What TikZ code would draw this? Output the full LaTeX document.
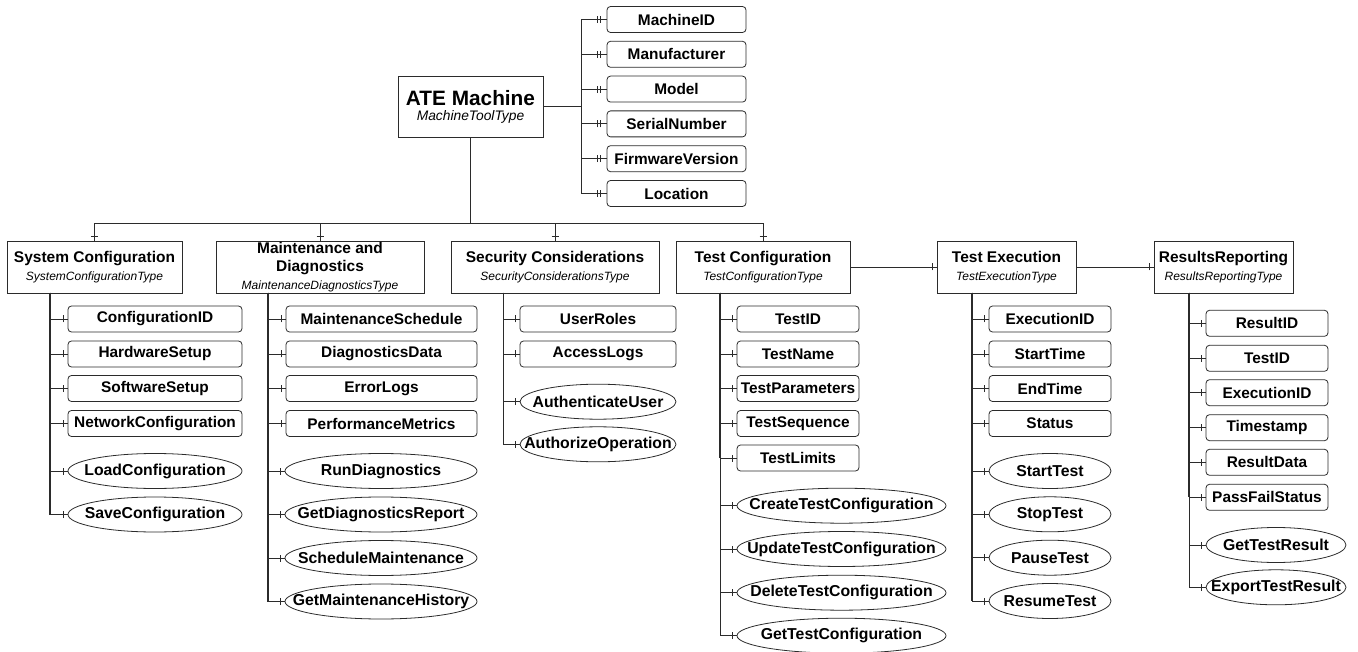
\documentclass[tikz,border=0pt]{standalone}
\usepackage{fontspec}
\setmainfont{Liberation Sans}
\usetikzlibrary{shapes.geometric, decorations.markings}
\definecolor{linecol}{HTML}{2B2B2B}
\newcommand{\typename}[1]{{\itshape\fontsize{12}{14}\selectfont #1}}
\newcommand{\opname}[1]{\makebox[0pt]{#1}}

\begin{document}
\begin{tikzpicture}[
  x=1pt, y=-1pt,
  root/.style={draw=linecol, thick, minimum width=145pt, minimum height=61pt, inner sep=0pt, align=center},
  group/.style={draw=linecol, thick, minimum height=52pt, inner sep=0pt, align=center, font=\fontsize{15.5}{18}\selectfont},
  attr/.style={draw=linecol, thick, rounded corners=3.5pt, minimum height=26pt, inner sep=0pt, font=\bfseries\fontsize{15.4}{17}\selectfont},
  op/.style={ellipse, draw=linecol, thick, minimum height=35pt, inner sep=0pt, font=\bfseries\fontsize{15.8}{17}\selectfont},
  link/.style={draw=linecol, line width=0.9pt},
  trunk/.style={draw=linecol, line width=1.8pt},
  one/.style={link, decoration={markings, mark=at position -4pt with {\draw[linecol, line width=0.8pt] (0,-3.5pt) -- (0,3.5pt);}}, postaction=decorate},
  two/.style={link, decoration={markings, mark=at position -6pt with {\draw[linecol, line width=0.8pt] (0,-3.5pt) -- (0,3.5pt) (-3pt,-3.5pt) -- (-3pt,3.5pt);}}, postaction=decorate}
]
\useasboundingbox (0,0) rectangle (1358,652);

\node[root] (ate) at (470.5,106.5) {{\bfseries\fontsize{20.8}{24}\selectfont ATE Machine}\\[3pt]{\itshape\fontsize{13.8}{15}\selectfont MachineToolType}};

\node[attr, minimum width=139pt] (mid) at (676.5,19.5) {MachineID};
\node[attr, minimum width=139pt] (mfr) at (676.5,54.3) {Manufacturer};
\node[attr, minimum width=139pt] (model) at (676.5,89.1) {Model};
\node[attr, minimum width=139pt] (serial) at (676.5,123.9) {SerialNumber};
\node[attr, minimum width=139pt] (fw) at (676.5,158.7) {FirmwareVersion};
\node[attr, minimum width=139pt] (loc) at (676.5,193.5) {Location};

\node[group, minimum width=175pt] (sc) at (94.5,267) {\textbf{System Configuration}\\\typename{SystemConfigurationType}};
\node[group, minimum width=208pt] (md) at (320,267) {\textbf{Maintenance and}\\\textbf{Diagnostics}\\\typename{MaintenanceDiagnosticsType}};
\node[group, minimum width=208pt] (sec) at (555,267) {\textbf{Security Considerations}\\\typename{SecurityConsiderationsType}};
\node[group, minimum width=174pt] (tc) at (763,267) {\textbf{Test Configuration}\\\typename{TestConfigurationType}};
\node[group, minimum width=139pt] (te) at (1006.5,267) {\textbf{Test Execution}\\\typename{TestExecutionType}};
\node[group, minimum width=139pt] (rr) at (1223.5,267) {\textbf{ResultsReporting}\\\typename{ResultsReportingType}};

\coordinate (bus) at (470.5,223);
\coordinate (atr) at (581,106.5);
\coordinate (sc-t) at (50,293);
\coordinate (md-t) at (268,293);
\coordinate (sec-t) at (503,293);
\coordinate (tc-t) at (720,293);
\coordinate (te-t) at (972,293);
\coordinate (rr-t) at (1189,293);

\node[attr, minimum width=174pt] (cid) at (155,319) {ConfigurationID};
\node[attr, minimum width=174pt] (hw) at (155,354) {HardwareSetup};
\node[attr, minimum width=174pt] (sw) at (155,388.5) {SoftwareSetup};
\node[attr, minimum width=174pt] (net) at (155,423.5) {NetworkConfiguration};
\node[op, minimum width=174pt] (load) at (155,471) {\opname{LoadConfiguration}};
\node[op, minimum width=174pt] (save) at (155,514.5) {\opname{SaveConfiguration}};

\node[attr, minimum width=191pt] (msched) at (381.5,319) {MaintenanceSchedule};
\node[attr, minimum width=191pt] (ddata) at (381.5,354) {DiagnosticsData};
\node[attr, minimum width=191pt] (errlog) at (381.5,388.5) {ErrorLogs};
\node[attr, minimum width=191pt] (perf) at (381.5,423.5) {PerformanceMetrics};
\node[op, minimum width=192pt] (rundiag) at (381,471) {\opname{RunDiagnostics}};
\node[op, minimum width=192pt] (getrep) at (381,514.5) {\opname{GetDiagnosticsReport}};
\node[op, minimum width=192pt] (schedm) at (381,558) {\opname{ScheduleMaintenance}};
\node[op, minimum width=192pt] (gethist) at (381,601.5) {\opname{GetMaintenanceHistory}};

\node[attr, minimum width=156pt] (roles) at (598,319) {UserRoles};
\node[attr, minimum width=156pt] (alogs) at (598,354) {AccessLogs};
\node[op, minimum width=156pt] (auth) at (598,401.7) {\opname{AuthenticateUser}};
\node[op, minimum width=156pt] (authz) at (598,444.3) {\opname{AuthorizeOperation}};

\node[attr, minimum width=122pt] (tid) at (798,319) {TestID};
\node[attr, minimum width=122pt] (tname) at (798,354) {TestName};
\node[attr, minimum width=122pt] (tparam) at (798,388.5) {TestParameters};
\node[attr, minimum width=122pt] (tseq) at (798,423.5) {TestSequence};
\node[attr, minimum width=122pt] (tlim) at (798,458) {TestLimits};
\node[op, minimum width=209pt] (create) at (841.5,505.7) {\opname{CreateTestConfiguration}};
\node[op, minimum width=209pt] (update) at (841.5,549) {\opname{UpdateTestConfiguration}};
\node[op, minimum width=209pt] (delete) at (841.5,592.7) {\opname{DeleteTestConfiguration}};
\node[op, minimum width=209pt] (gettc) at (841.5,635.7) {\opname{GetTestConfiguration}};

\node[attr, minimum width=122pt] (eid) at (1050,319) {ExecutionID};
\node[attr, minimum width=122pt] (stime) at (1050,354) {StartTime};
\node[attr, minimum width=122pt] (etime) at (1050,388.5) {EndTime};
\node[attr, minimum width=122pt] (status) at (1050,423.5) {Status};
\node[op, minimum width=122pt] (starttest) at (1050,471) {\opname{StartTest}};
\node[op, minimum width=122pt] (stoptest) at (1050,514.3) {\opname{StopTest}};
\node[op, minimum width=122pt] (pausetest) at (1050,557.7) {\opname{PauseTest}};
\node[op, minimum width=122pt] (resumetest) at (1050,601) {\opname{ResumeTest}};

\node[attr, minimum width=122pt] (rid) at (1267,323.3) {ResultID};
\node[attr, minimum width=122pt] (rtid) at (1267,358.3) {TestID};
\node[attr, minimum width=122pt] (reid) at (1267,392.7) {ExecutionID};
\node[attr, minimum width=122pt] (tstamp) at (1267,427.7) {Timestamp};
\node[attr, minimum width=122pt] (rdata) at (1267,462.3) {ResultData};
\node[attr, minimum width=122pt] (pfs) at (1267,497.3) {PassFailStatus};
\node[op, minimum width=140pt] (gettr) at (1276,545) {\opname{GetTestResult}};
\node[op, minimum width=140pt] (exptr) at (1276,587.3) {\opname{ExportTestResult}};

\draw[two] (ate.east) -- (atr) |- (mid.west);
\draw[two] (ate.east) -- (atr) |- (mfr.west);
\draw[two] (ate.east) -- (atr) |- (model.west);
\draw[two] (ate.east) -- (atr) |- (serial.west);
\draw[two] (ate.east) -- (atr) |- (fw.west);
\draw[two] (ate.east) -- (atr) |- (loc.west);
\draw[trunk] (ate.east) -- (atr);

\draw[one] (ate.south) -- (bus) -| (sc.north);
\draw[one] (ate.south) -- (bus) -| (md.north);
\draw[one] (ate.south) -- (bus) -| (sec.north);
\draw[one] (ate.south) -- (bus) -| (tc.north);
\draw[trunk] (ate.south) -- (bus);

\draw[one] (tc.east) -- (te.west);
\draw[one] (te.east) -- (rr.west);

\draw[trunk] (sc-t) -- (sc-t |- save.west);
\draw[one] (sc-t) |- (cid.west);
\draw[one] (sc-t) |- (hw.west);
\draw[one] (sc-t) |- (sw.west);
\draw[one] (sc-t) |- (net.west);
\draw[one] (sc-t) |- (load.west);
\draw[one] (sc-t) |- (save.west);

\draw[trunk] (md-t) -- (md-t |- gethist.west);
\draw[one] (md-t) |- (msched.west);
\draw[one] (md-t) |- (ddata.west);
\draw[one] (md-t) |- (errlog.west);
\draw[one] (md-t) |- (perf.west);
\draw[one] (md-t) |- (rundiag.west);
\draw[one] (md-t) |- (getrep.west);
\draw[one] (md-t) |- (schedm.west);
\draw[one] (md-t) |- (gethist.west);

\draw[link] (sec-t) -- (sec-t |- authz.west);
\draw[one] (sec-t) |- (roles.west);
\draw[one] (sec-t) |- (alogs.west);
\draw[one] (sec-t) |- (auth.west);
\draw[one] (sec-t) |- (authz.west);

\draw[trunk] (tc-t) -- (tc-t |- tlim.west);
\draw[one] (tc-t) |- (tid.west);
\draw[one] (tc-t) |- (tname.west);
\draw[one] (tc-t) |- (tparam.west);
\draw[one] (tc-t) |- (tseq.west);
\draw[one] (tc-t) |- (tlim.west);
\draw[one] (tc-t) |- (create.west);
\draw[one] (tc-t) |- (update.west);
\draw[one] (tc-t) |- (delete.west);
\draw[one] (tc-t) |- (gettc.west);

\draw[trunk] (te-t) -- (te-t |- resumetest.west);
\draw[one] (te-t) |- (eid.west);
\draw[one] (te-t) |- (stime.west);
\draw[one] (te-t) |- (etime.west);
\draw[one] (te-t) |- (status.west);
\draw[one] (te-t) |- (starttest.west);
\draw[one] (te-t) |- (stoptest.west);
\draw[one] (te-t) |- (pausetest.west);
\draw[one] (te-t) |- (resumetest.west);

\draw[trunk] (rr-t) -- (rr-t |- pfs.west);
\draw[one] (rr-t) |- (rid.west);
\draw[one] (rr-t) |- (rtid.west);
\draw[one] (rr-t) |- (reid.west);
\draw[one] (rr-t) |- (tstamp.west);
\draw[one] (rr-t) |- (rdata.west);
\draw[one] (rr-t) |- (pfs.west);
\draw[one] (rr-t) |- (gettr.west);
\draw[one] (rr-t) |- (exptr.west);
\end{tikzpicture}
\end{document}
